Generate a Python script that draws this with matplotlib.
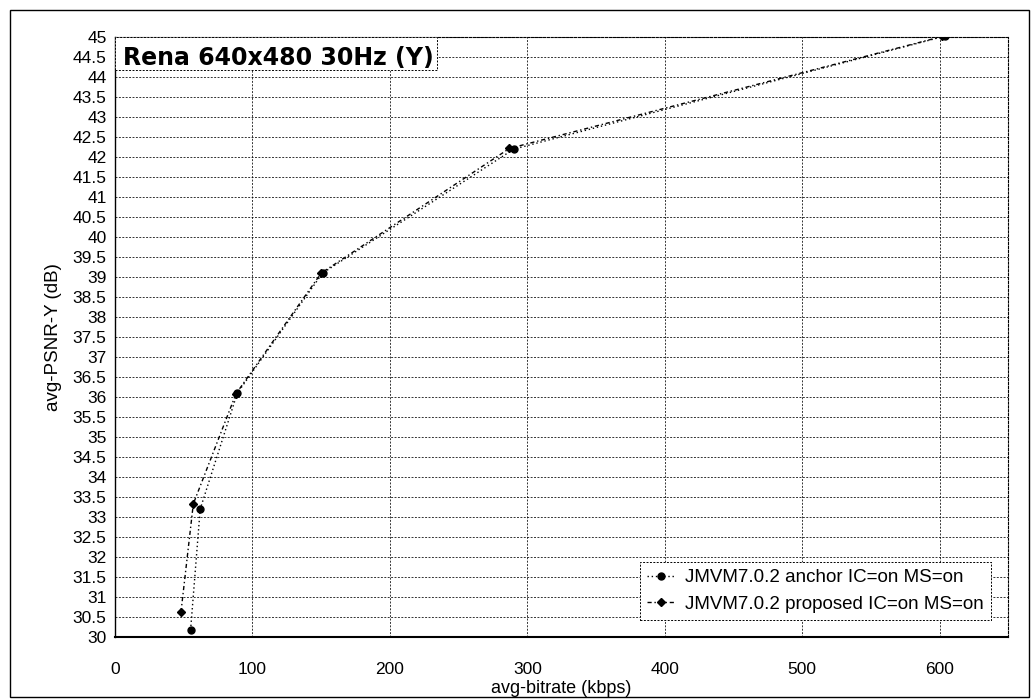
import numpy as np
import matplotlib
matplotlib.use('Agg')
import matplotlib.pyplot as plt
from matplotlib.patches import Rectangle

plt.rcParams['font.family'] = ['Liberation Sans', 'DejaVu Sans']

# datos
bitrate_anchor = [55, 62, 89, 151, 290, 604]
psnr_anchor = [30.17, 33.2, 36.1, 39.1, 42.2, 45.03]

bitrate_prop = [48, 57, 88, 150, 287, 602]
psnr_prop = [30.62, 33.33, 36.08, 39.1, 42.22, 45.02]

xticks = [0, 100, 200, 300, 400, 500, 600]
yticks = np.arange(30, 45.01, 0.5)

titulo = "Rena 640x480 30Hz (Y)"
etiqueta_anchor = "JMVM7.0.2 anchor IC=on MS=on"
etiqueta_prop = "JMVM7.0.2 proposed IC=on MS=on"

punteado = (0, (2, 1.5))

fig = plt.figure(figsize=(10.34, 6.99), dpi=100)
ax = fig.add_axes([0.1112, 0.0887, 0.864, 0.858])

# rejilla punteada (estilo escaneo)
ax.set_axisbelow(True)
ax.grid(True, color='black', linestyle=punteado, linewidth=0.7, alpha=0.8)

ax.plot(bitrate_anchor, psnr_anchor, linestyle=(0, (1, 2)), color='black',
        linewidth=1.0, marker='o', markersize=5, label=etiqueta_anchor, zorder=4)
ax.plot(bitrate_prop, psnr_prop, linestyle=(0, (3, 2, 1, 2)), color='black',
        linewidth=1.0, marker='D', markersize=4, label=etiqueta_prop, zorder=4)

ax.set_xlim(0, 650)
ax.set_ylim(30, 45)
ax.set_xticks(xticks)
ax.set_yticks(yticks)
ax.set_yticklabels([f"{v:g}" for v in yticks], fontsize=12.5)
ax.set_xticklabels([str(v) for v in xticks], fontsize=12.5)
ax.tick_params(axis='both', length=0, pad=6)
ax.tick_params(axis='x', pad=18)

for lado in ['top', 'right']:
    ax.spines[lado].set_linestyle(punteado)
    ax.spines[lado].set_linewidth(0.8)
ax.spines['left'].set_linewidth(1.0)
ax.spines['bottom'].set_linewidth(1.5)

ax.set_xlabel("avg-bitrate (kbps)", fontsize=13, labelpad=2)
ax.set_ylabel("avg-PSNR-Y (dB)", fontsize=13.5, labelpad=8)

# caja del titulo dentro del area de trazado
caja = Rectangle((0, 0.945), 0.36, 0.055, transform=ax.transAxes,
                 facecolor='white', edgecolor='black', linestyle=punteado,
                 linewidth=0.7, zorder=3)
ax.add_patch(caja)
ax.text(0.009, 0.954, titulo, transform=ax.transAxes, fontsize=17,
        family='DejaVu Sans', fontweight='bold', va='baseline', ha='left',
        zorder=5)

leg = ax.legend(loc='lower right', fontsize=13.5, frameon=True, fancybox=False,
                edgecolor='black', framealpha=1, borderpad=0.4,
                handlelength=1.5, handletextpad=0.5, labelspacing=0.5,
                bbox_to_anchor=(0.991, 0.012))
leg.get_frame().set_linestyle(punteado)
leg.get_frame().set_linewidth(0.7)
leg.set_zorder(6)

# marco exterior del grafico
fig.patches.append(Rectangle((0.010, 0.003), 0.985, 0.983, transform=fig.transFigure,
                             fill=False, edgecolor='black', linewidth=1.0))

fig.savefig('out.png', dpi=100)
